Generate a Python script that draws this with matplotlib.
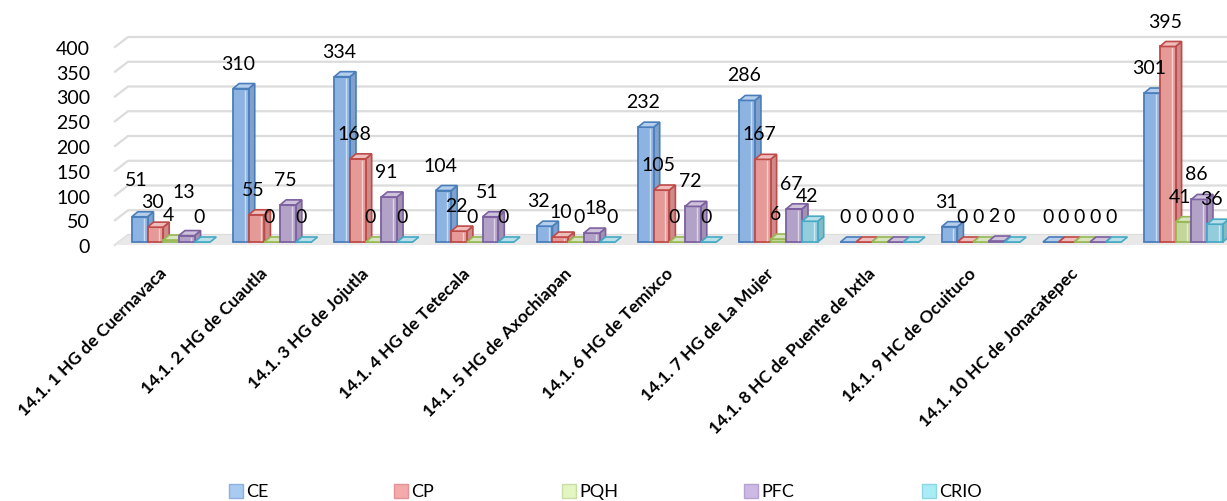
import matplotlib
matplotlib.use("Agg")
import matplotlib.pyplot as plt
from matplotlib.patches import Polygon, Rectangle
import matplotlib.colors as mcolors
import numpy as np

# ---------------- data ----------------
categories = [
    "14.1. 1 HG de Cuernavaca",
    "14.1. 2 HG de Cuautla",
    "14.1. 3 HG de Jojutla",
    "14.1. 4 HG de Tetecala",
    "14.1. 5 HG de Axochiapan",
    "14.1. 6 HG de Temixco",
    "14.1. 7 HG de La Mujer",
    "14.1. 8 HC de Puente de Ixtla",
    "14.1. 9 HC de Ocuituco",
    "14.1. 10 HC de Jonacatepec",
    "",
]
series_names = ["CE", "CP", "PQH", "PFC", "CRIO"]
ce = [51, 310, 334, 104, 32, 232, 286, 0, 31, 0, 301]
cp = [30, 55, 168, 22, 10, 105, 167, 0, 0, 0, 395]
pqh = [4, 0, 0, 0, 0, 0, 6, 0, 0, 0, 41]
pfc = [13, 75, 91, 51, 18, 72, 67, 0, 2, 0, 86]
crio = [0, 0, 0, 0, 0, 0, 42, 0, 0, 0, 36]
yticks = [0, 50, 100, 150, 200, 250, 300, 350, 400]

series = [ce, cp, pqh, pfc, crio]

# ---------------- style ----------------
face_colors = ["#8DB3E2", "#E59A98", "#C3D69B", "#B3A2C7", "#93CDDD"]
edge_colors = ["#4A7EBB", "#BE4B48", "#98B954", "#7D60A0", "#46AAC5"]
legend_colors = ["#A9CBF2", "#F4AAAA", "#E3F5C0", "#CDB9E6", "#A9ECF5"]
legend_edges = ["#8DB0DC", "#E39393", "#C9DDA6", "#B6A2D0", "#8ED6E2"]

plt.rcParams["font.family"] = ["Lato", "DejaVu Sans"]

W, H = 1227, 502
fig = plt.figure(figsize=(W / 100, H / 100), dpi=100)
fig.patch.set_facecolor("white")

ax_left, ax_right = 115, 1227
y_zero, y_top = 246, 48
ax = fig.add_axes([ax_left / W, (H - y_zero) / H,
                   (ax_right - ax_left) / W, (y_zero - y_top) / H])
xl, xr = -0.524, 10.46
ax.set_xlim(xl, xr)
ax.set_ylim(0, 400)
ax.patch.set_alpha(0)
for s in ax.spines.values():
    s.set_visible(False)

px_x = (xr - xl) / (ax_right - ax_left)
px_y = 400 / (y_zero - y_top)

# back wall / gridlines with perspective
wall_dx, wall_dy = 13 * px_x, 10 * px_y
grid_col = "#DCDCDC"
for yv in yticks:
    ax.plot([xl, xl + wall_dx, xr], [yv, yv + wall_dy, yv + wall_dy],
            color=grid_col, lw=1.6, clip_on=False, zorder=0.5,
            solid_joinstyle="miter")
# floor
ax.add_patch(Polygon([(xl, 0), (xl + wall_dx, wall_dy), (xr, wall_dy), (xr, 0)],
                     closed=True, facecolor="#E8E8E8", edgecolor="none",
                     clip_on=False, zorder=0.6))

# ---------------- bars (faux 3D) ----------------
idx = np.arange(len(categories))
bw = 0.155
dx, dy = 6 * px_x, 5 * px_y
base_x, base_y = 3 * px_x, 3 * px_y


def lighten(c, f):
    r, g, b = mcolors.to_rgb(c)
    return (r + (1 - r) * f, g + (1 - g) * f, b + (1 - b) * f)


def darken(c, f):
    r, g, b = mcolors.to_rgb(c)
    return (r * f, g * f, b * f)


# (series, group): (dx px, dy px) extra label offsets to avoid collisions
label_nudge = {(0, 0): (0, 12), (3, 0): (0, 19),
               (0, 4): (-3, 0), (1, 4): (3, 0), (2, 4): (6, 0),
               (3, 4): (7, 0), (4, 4): (8, 0)}

for si, vals in enumerate(series):
    xs = idx + (si - 2) * bw
    fc, ec = face_colors[si], edge_colors[si]
    z = 2 + si
    bars = ax.bar(xs + base_x, vals, bw, bottom=base_y, color=fc,
                  edgecolor=ec, linewidth=1.3, zorder=z, label=series_names[si])
    for bi, (bar, v) in enumerate(zip(bars, vals)):
        bar.set_clip_on(False)
        x0 = bar.get_x()
        x1 = x0 + bar.get_width()
        top = bar.get_y() + bar.get_height()
        bot = bar.get_y()
        if v > 0:
            side = Polygon([(x1, bot), (x1, top), (x1 + dx, top + dy), (x1 + dx, bot + dy)],
                           closed=True, facecolor=darken(fc, 0.9), edgecolor=ec,
                           linewidth=1.2, zorder=z - 0.1, clip_on=False)
            ax.add_patch(side)
        topf = Polygon([(x0, top), (x1, top), (x1 + dx, top + dy), (x0 + dx, top + dy)],
                       closed=True, facecolor=lighten(fc, 0.35), edgecolor=ec,
                       linewidth=1.2, zorder=z + 0.05, clip_on=False)
        ax.add_patch(topf)
        # inner highlight line on front face
        if v > 6:
            ax.plot([x1 - 0.25 * bw, x1 - 0.25 * bw], [bot + 2 * px_y, top - 2 * px_y],
                    color=lighten(fc, 0.55), lw=1.0, zorder=z + 0.02, clip_on=False)
        nx, ny = label_nudge.get((si, bi), (0, 0))
        ax.annotate(str(v), (xs[bi], v), xytext=(nx * 0.72, 20.5 + ny * 0.72),
                    textcoords="offset points", ha="center", va="center",
                    fontsize=14, color="black", zorder=20, annotation_clip=False)

# ---------------- axes ticks ----------------
ax.set_yticks(yticks)
ax.set_yticklabels([str(t) for t in yticks], fontsize=14)
ax.tick_params(axis="y", length=0, pad=(ax_left - 90) * 0.72)
ax.set_xticks(idx - 4 * px_x)
ax.set_xticklabels(categories, rotation=45, ha="right", va="center",
                   rotation_mode="anchor", fontsize=12.5, fontweight="bold")
ax.tick_params(axis="x", length=0, pad=18)

# ---------------- legend ----------------
leg_x = [229, 394, 562, 744, 922]
leg_y = 492
for si, name in enumerate(series_names):
    fig.add_artist(Rectangle(((leg_x[si]) / W, (H - leg_y - 7) / H), 14 / W, 14 / H,
                             transform=fig.transFigure, facecolor=legend_colors[si],
                             edgecolor=legend_edges[si], linewidth=1.0))
    fig.text((leg_x[si] + 17) / W, (H - leg_y) / H, name, ha="left", va="center",
             fontsize=13)

fig.savefig("out.png", dpi=100, facecolor="white")
